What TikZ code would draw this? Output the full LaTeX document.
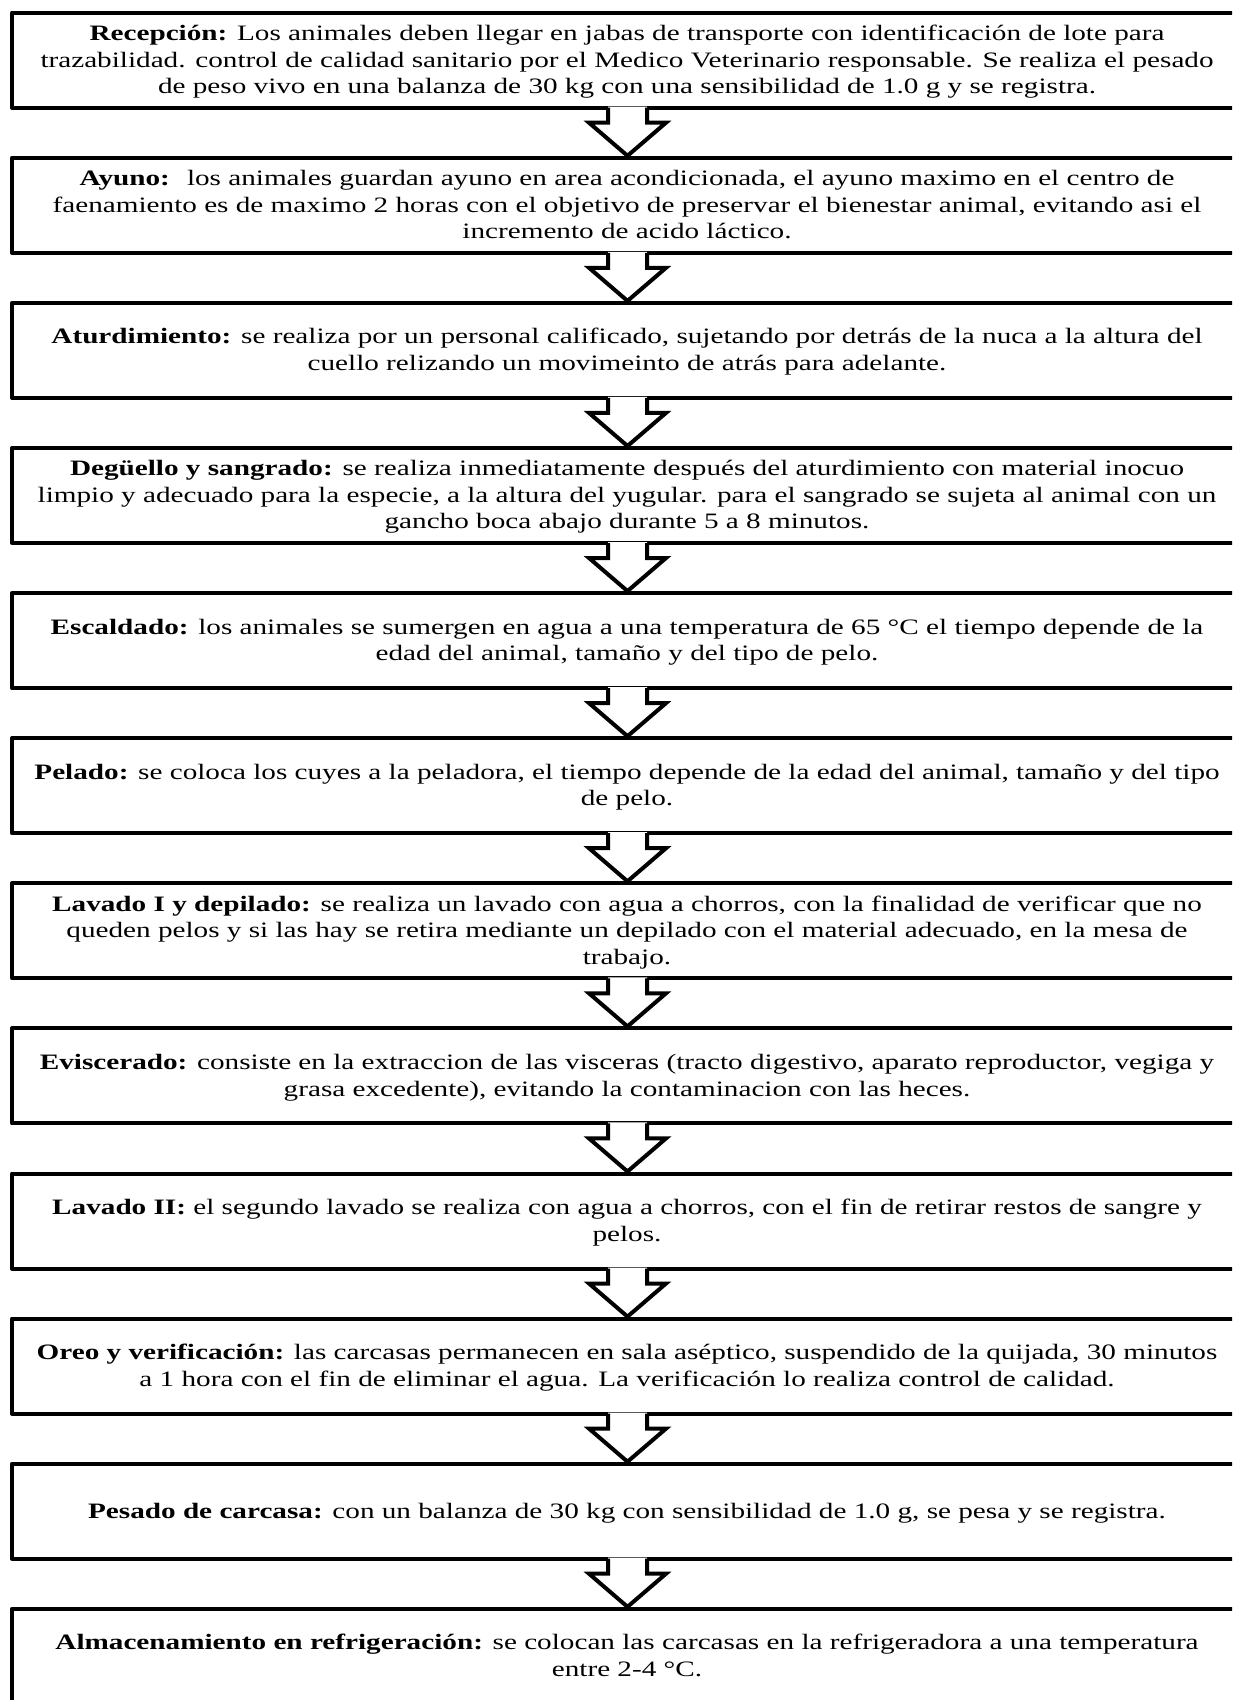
\documentclass[tikz,border=0pt]{standalone}
\usepackage{graphicx}
\usepackage{fontspec}
\setmainfont{Liberation Serif}
\usetikzlibrary{calc}
\newcommand{\hscl}{1.327}
\newcommand{\steptext}[1]{\scalebox{\hscl}[1]{\fontsize{11}{13.3}\selectfont\begin{tabular}{@{}c@{}}#1\end{tabular}}}
\begin{document}
\begin{tikzpicture}[x=0.5pt,y=-0.5pt,
  stepbox/.style={draw, line width=2pt, minimum width=631pt, minimum height=47.5pt, inner sep=0pt, line join=round},
  steplabel/.style={inner sep=0pt},
  flowline/.style={draw, line width=2pt, line join=miter}]
\useasboundingbox (0,0) rectangle (1232,1700);
\clip (0,0) rectangle (1232,1700);
\fill[white] (0,0) rectangle (1232,1700);

\foreach \k in {1,...,12}{
  \node[stepbox] (s\k) at (643,{60.2+145.1*(\k-1)}) {};
}

\node[steplabel] (t1) at (627,61.7) {\steptext{\textbf{Recepción:} Los animales deben llegar en jabas de transporte con identificación de lote para\\trazabilidad. control de calidad sanitario por el Medico Veterinario responsable. Se realiza el pesado\\de peso vivo en una balanza de 30 kg con una sensibilidad de 1.0 g y se registra.}};
\node[steplabel] (t2) at (627,206.8) {\steptext{\textbf{Ayuno:}~ los animales guardan ayuno en area acondicionada, el ayuno maximo en el centro de\\faenamiento es de maximo 2 horas con el objetivo de preservar el bienestar animal, evitando asi el\\incremento de acido láctico.}};
\node[steplabel] (t3) at (627,351.9) {\steptext{\textbf{Aturdimiento:} se realiza por un personal calificado, sujetando por detrás de la nuca a la altura del\\cuello relizando un movimeinto de atrás para adelante.}};
\node[steplabel] (t4) at (627,497.0) {\steptext{\textbf{Degüello y sangrado:} se realiza inmediatamente después del aturdimiento con material inocuo\\limpio y adecuado para la especie, a la altura del yugular. para el sangrado se sujeta al animal con un\\gancho boca abajo durante 5 a 8 minutos.}};
\node[steplabel] (t5) at (627,642.1) {\steptext{\textbf{Escaldado:} los animales se sumergen en agua a una temperatura de 65 °C el tiempo depende de la\\edad del animal, tamaño y del tipo de pelo.}};
\node[steplabel] (t6) at (627,787.2) {\steptext{\textbf{Pelado:} se coloca los cuyes a la peladora, el tiempo depende de la edad del animal, tamaño y del tipo\\de pelo.}};
\node[steplabel] (t7) at (627,932.3) {\steptext{\textbf{Lavado I y depilado:} se realiza un lavado con agua a chorros, con la finalidad de verificar que no\\queden pelos y si las hay se retira mediante un depilado con el material adecuado, en la mesa de\\trabajo.}};
\node[steplabel] (t8) at (627,1077.4) {\steptext{\textbf{Eviscerado:} consiste en la extraccion de las visceras (tracto digestivo, aparato reproductor, vegiga y\\grasa excedente), evitando la contaminacion con las heces.}};
\node[steplabel] (t9) at (627,1222.5) {\steptext{\textbf{Lavado II:} el segundo lavado se realiza con agua a chorros, con el fin de retirar restos de sangre y\\pelos.}};
\node[steplabel] (t10) at (627,1367.6) {\steptext{\textbf{Oreo y verificación:} las carcasas permanecen en sala aséptico, suspendido de la quijada, 30 minutos\\a 1 hora con el fin de eliminar el agua. La verificación lo realiza control de calidad.}};
\node[steplabel] (t11) at (627,1513.2) {\steptext{\textbf{Pesado de carcasa:} con un balanza de 30 kg con sensibilidad de 1.0 g, se pesa y se registra.}};
\node[steplabel] (t12) at (627,1657.8) {\steptext{\textbf{Almacenamiento en refrigeración:} se colocan las carcasas en la refrigeradora a una temperatura\\entre 2-4 °C.}};

\foreach \i/\j in {1/2,2/3,3/4,4/5,5/6,6/7,7/8,8/9,9/10,10/11,11/12}{
  \coordinate (a) at ($(s\i.south -| t\i.center)+(0.5,0)$);
  \coordinate (b) at ($(s\j.north -| t\j.center)+(0.5,0)$);
  \fill[white] ($(a)+(-19.5,-3)$) -- ($(a)+(-19.5,13)$) -- ($(a)+(-38.5,13)$) -- (b) -- ($(a)+(38.5,13)$) -- ($(a)+(19.5,13)$) -- ($(a)+(19.5,-3)$) -- cycle;
  \draw[flowline] ($(a)+(-19.5,-2)$) -- ($(a)+(-19.5,13)$) -- ($(a)+(-38.5,13)$) -- (b) -- ($(a)+(38.5,13)$) -- ($(a)+(19.5,13)$) -- ($(a)+(19.5,-2)$);
}
\end{tikzpicture}
\end{document}
